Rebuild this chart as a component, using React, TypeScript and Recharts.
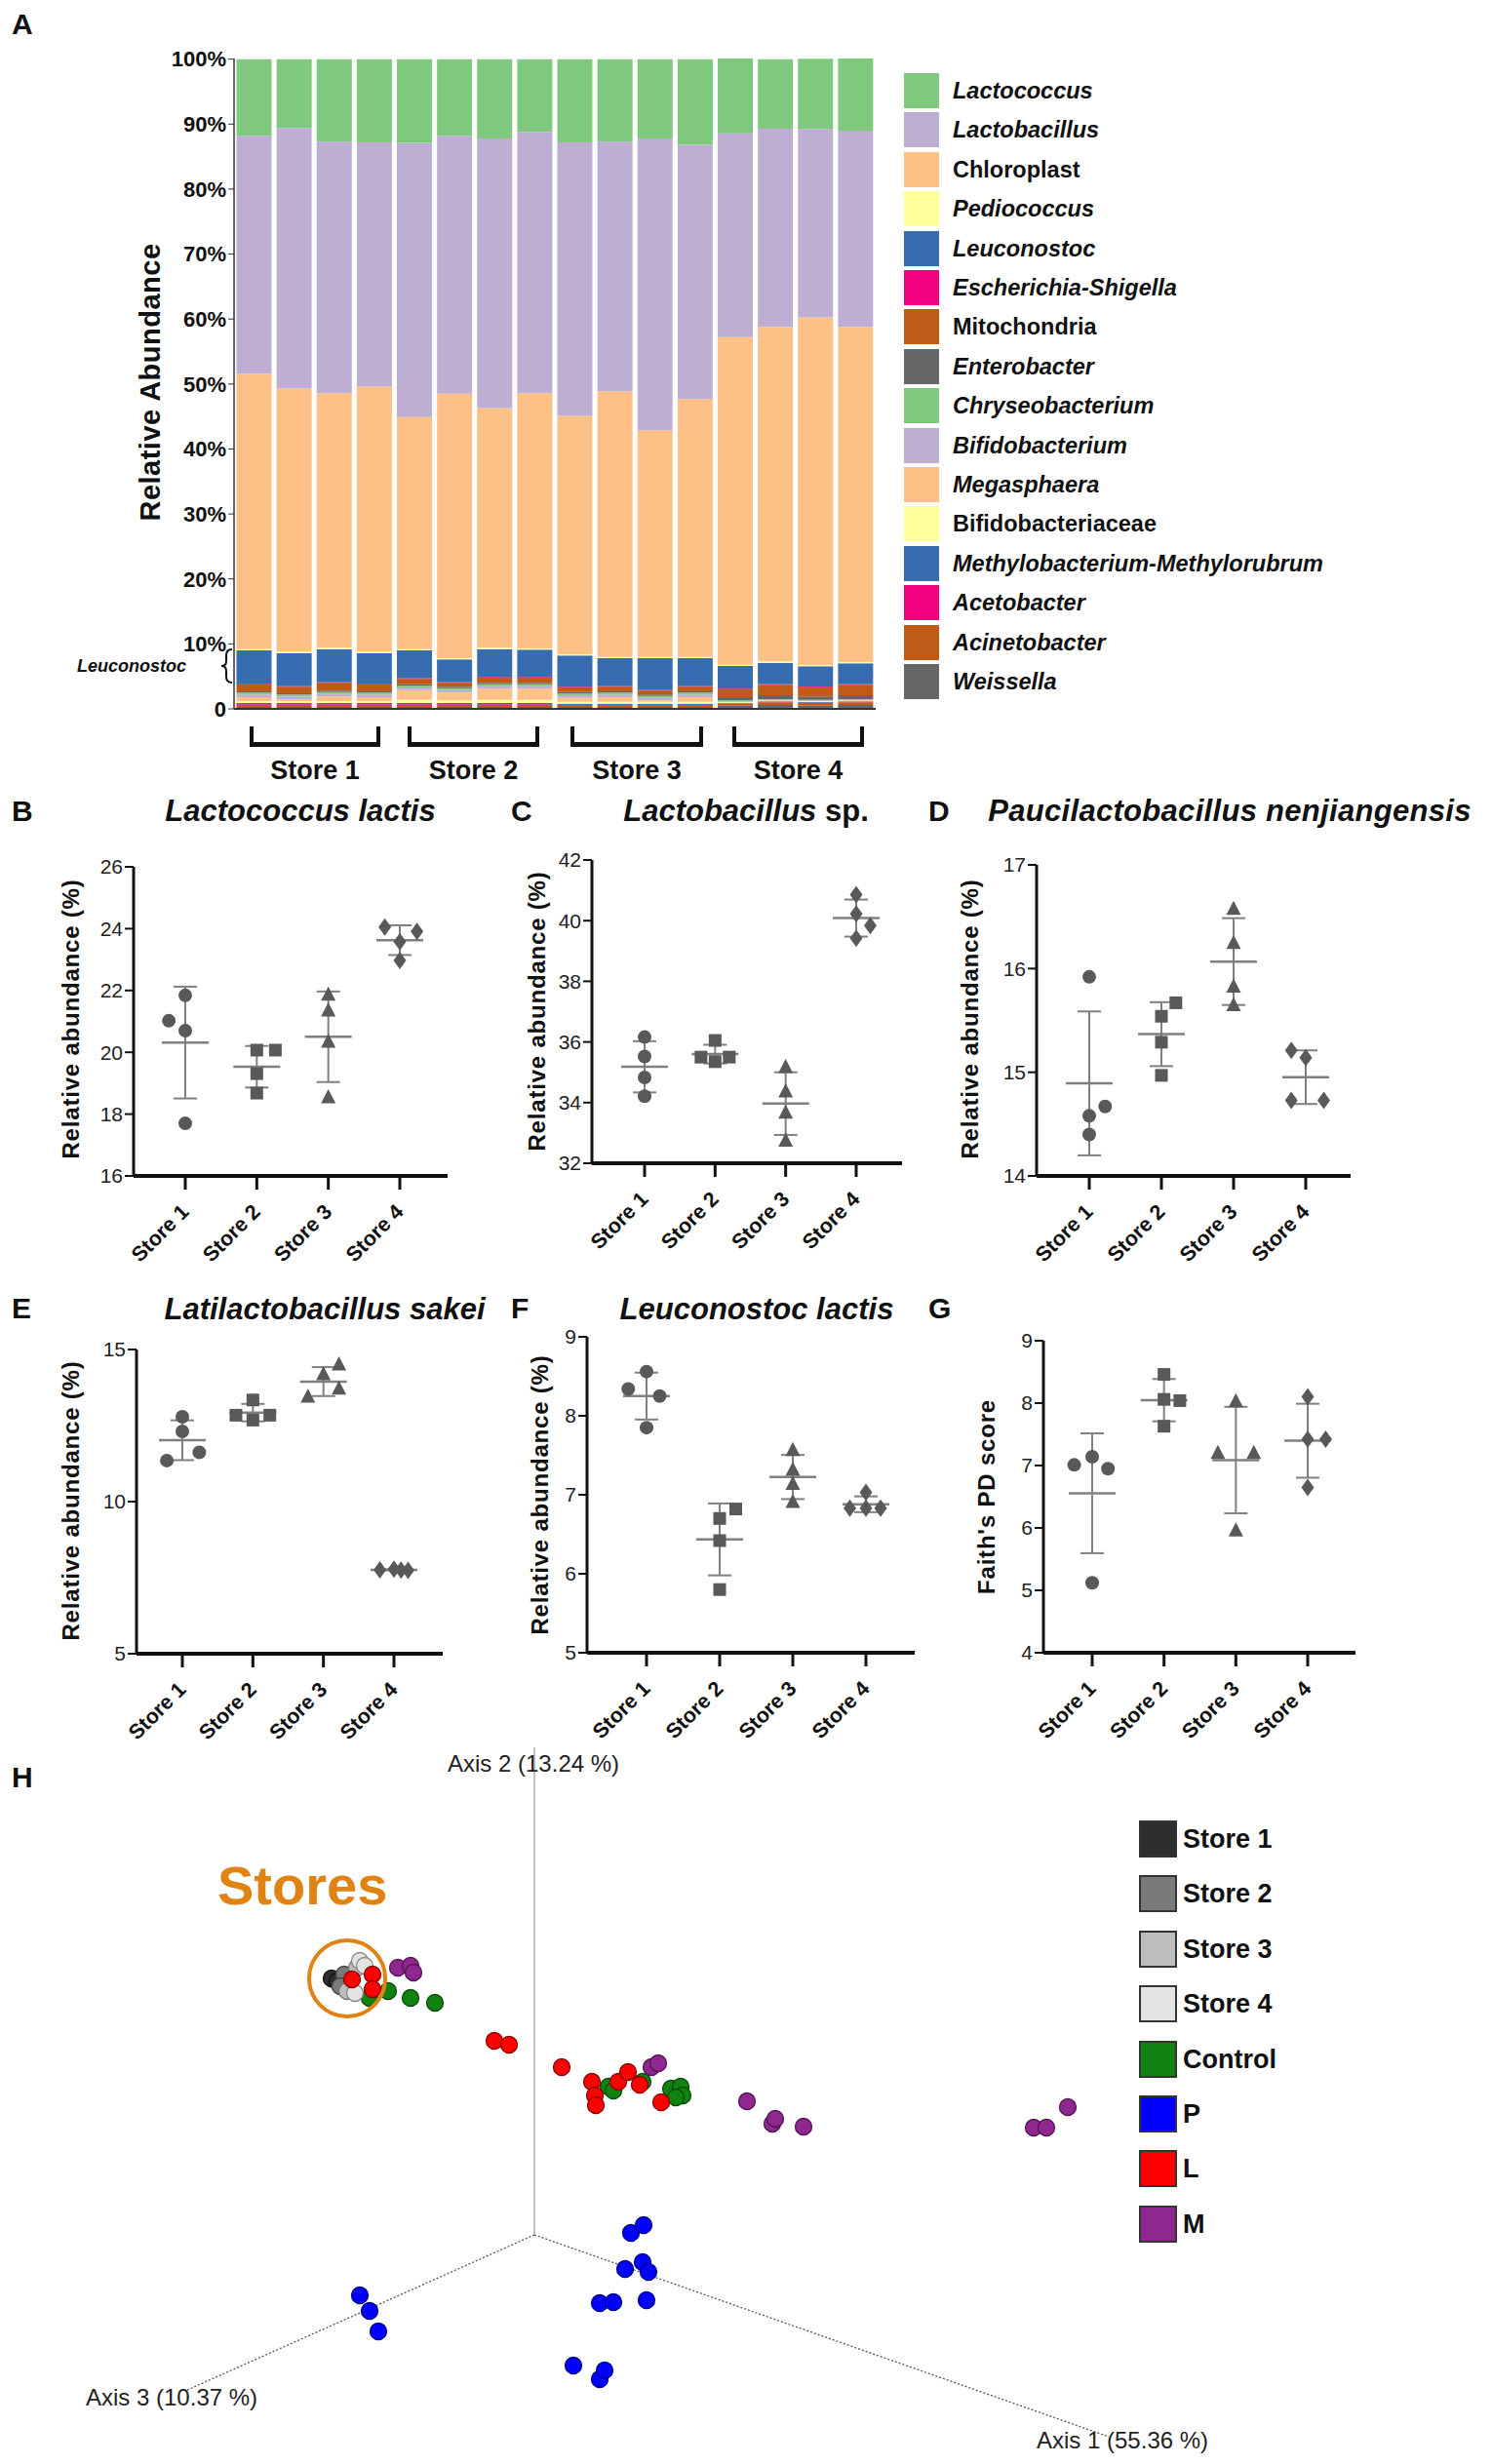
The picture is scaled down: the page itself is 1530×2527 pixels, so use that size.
import React from 'react';
import {
  BarChart, Bar, XAxis, YAxis, ComposedChart, ScatterChart, Scatter, ErrorBar, ReferenceLine, ReferenceDot,
} from 'recharts';

const FONT = '"Liberation Sans", Arial, Helvetica, sans-serif';

// ---------- A: relative abundance (%), 4 samples per store ----------
const samples = ['1a', '1b', '1c', '1d', '2a', '2b', '2c', '2d', '3a', '3b', '3c', '3d', '4a', '4b', '4c', '4d'];
const lactococcus = [11.8, 10.6, 12.7, 12.8, 12.9, 11.8, 12.2, 11.2, 12.8, 12.7, 12.2, 13.2, 11.5, 10.7, 10.8, 11.1];
const lactobacillus = [36.6, 40.1, 38.7, 37.6, 42.2, 39.7, 41.5, 40.2, 42.1, 38.4, 44.9, 39.1, 31.4, 30.5, 29.0, 30.2];
const chloroplast = [42.4, 40.5, 39.2, 40.8, 35.7, 40.7, 36.9, 39.3, 36.7, 40.9, 34.9, 39.7, 50.4, 51.5, 53.5, 51.6];
const pediococcus = [0.2, 0.2, 0.2, 0.2, 0.2, 0.2, 0.2, 0.2, 0.2, 0.2, 0.2, 0.2, 0.2, 0.2, 0.2, 0.2];
const leuconostoc = [5.1, 5.1, 5.1, 4.7, 4.3, 3.5, 4.3, 4.2, 4.8, 4.3, 4.9, 4.3, 3.5, 3.3, 3.1, 3.2];
const escherichia = [0.1, 0.1, 0.1, 0.1, 0.1, 0.1, 0.1, 0.1, 0.1, 0.1, 0.1, 0.1, 0.1, 0.1, 0.1, 0.1];
const mitochondria = [1.1, 1.0, 1.2, 1.1, 0.8, 0.6, 0.8, 0.8, 0.7, 0.7, 0.6, 0.7, 1.2, 1.6, 1.45, 1.6];
const enterobacter = [0.2, 0.2, 0.2, 0.2, 0.2, 0.2, 0.2, 0.2, 0.2, 0.2, 0.2, 0.2, 0.5, 0.6, 0.5, 0.6];
const chryseobacterium = [0.3, 0.3, 0.3, 0.3, 0.3, 0.3, 0.3, 0.3, 0.3, 0.3, 0.3, 0.3, 0.1, 0.1, 0.1, 0.1];
const bifidobacterium = [0.4, 0.4, 0.4, 0.4, 0.4, 0.4, 0.4, 0.4, 0.4, 0.4, 0.4, 0.4, 0.1, 0.1, 0.1, 0.1];
const megasphaera = [0.6, 0.3, 0.7, 0.6, 1.5, 1.2, 1.7, 1.7, 0.6, 0.7, 0.2, 0.7, 0.05, 0.05, 0.05, 0.05];
const bifidobacteriaceae = [0.3, 0.3, 0.3, 0.3, 0.5, 0.4, 0.5, 0.5, 0.3, 0.3, 0.3, 0.3, 0.1, 0.1, 0.1, 0.1];
const methylobacterium = [0.2, 0.2, 0.2, 0.2, 0.2, 0.2, 0.2, 0.2, 0.2, 0.2, 0.2, 0.2, 0.1, 0.1, 0.1, 0.1];
const acetobacter = [0.1, 0.1, 0.1, 0.1, 0.1, 0.1, 0.1, 0.1, 0.1, 0.1, 0.1, 0.1, 0.05, 0.05, 0.05, 0.05];
const acinetobacter = [0.3, 0.3, 0.3, 0.3, 0.3, 0.3, 0.3, 0.3, 0.2, 0.2, 0.2, 0.2, 0.3, 0.4, 0.4, 0.4];
const weissella = [0.3, 0.3, 0.3, 0.3, 0.3, 0.3, 0.3, 0.3, 0.3, 0.3, 0.3, 0.3, 0.5, 0.6, 0.5, 0.6];

// legend order (top of the stack first)
const genera = [
  { key: 'lactococcus', name: 'Lactococcus', color: '#7fc97f', italic: true, values: lactococcus },
  { key: 'lactobacillus', name: 'Lactobacillus', color: '#beaed4', italic: true, values: lactobacillus },
  { key: 'chloroplast', name: 'Chloroplast', color: '#fdc086', italic: false, values: chloroplast },
  { key: 'pediococcus', name: 'Pediococcus', color: '#ffff99', italic: true, values: pediococcus },
  { key: 'leuconostoc', name: 'Leuconostoc', color: '#386cb0', italic: true, values: leuconostoc },
  { key: 'escherichia', name: 'Escherichia-Shigella', color: '#f0027f', italic: true, values: escherichia },
  { key: 'mitochondria', name: 'Mitochondria', color: '#bf5b17', italic: false, values: mitochondria },
  { key: 'enterobacter', name: 'Enterobacter', color: '#666666', italic: true, values: enterobacter },
  { key: 'chryseobacterium', name: 'Chryseobacterium', color: '#7fc97f', italic: true, values: chryseobacterium },
  { key: 'bifidobacterium', name: 'Bifidobacterium', color: '#beaed4', italic: true, values: bifidobacterium },
  { key: 'megasphaera', name: 'Megasphaera', color: '#fdc086', italic: true, values: megasphaera },
  { key: 'bifidobacteriaceae', name: 'Bifidobacteriaceae', color: '#ffff99', italic: false, values: bifidobacteriaceae },
  { key: 'methylobacterium', name: 'Methylobacterium-Methylorubrum', color: '#386cb0', italic: true, values: methylobacterium },
  { key: 'acetobacter', name: 'Acetobacter', color: '#f0027f', italic: true, values: acetobacter },
  { key: 'acinetobacter', name: 'Acinetobacter', color: '#bf5b17', italic: true, values: acinetobacter },
  { key: 'weissella', name: 'Weissella', color: '#666666', italic: true, values: weissella },
];

const rowsA = samples.map((s, i) => {
  const row: any = { sample: s };
  genera.forEach((g) => { row[g.key] = g.values[i]; });
  return row;
});

// ---------- B-G: per-store values (4 replicates) ----------
const stores = ['Store 1', 'Store 2', 'Store 3', 'Store 4'];

const lactisB = [[21.84, 21.02, 20.70, 17.70], [20.07, 20.07, 19.31, 18.68], [21.84, 21.33, 20.32, 18.52], [24.05, 23.91, 23.58, 22.97]];
const lactisBJitter = [[0, -0.23, 0, 0], [0, 0.26, 0, 0], [0, 0, 0, 0], [-0.21, 0.24, 0, 0]];
const lactobC = [[36.16, 35.52, 34.83, 34.21], [36.05, 35.5, 35.5, 35.35], [35.15, 34.35, 33.65, 32.72], [40.86, 40.22, 39.84, 39.42]];
const lactobCJitter = [[0, 0, 0, 0], [0, -0.2, 0.2, 0], [0, 0, 0, 0], [0, 0, 0.2, 0]];
const paucD = [[15.92, 14.67, 14.58, 14.40], [15.67, 15.54, 15.29, 14.97], [16.57, 16.24, 15.82, 15.64], [15.21, 15.14, 14.73, 14.73]];
const paucDJitter = [[0, 0.22, 0, 0], [0.2, 0, 0, 0], [0, 0, 0, 0], [-0.2, 0, -0.2, 0.25]];
const sakeiE = [[12.79, 12.31, 11.62, 11.35], [13.34, 12.84, 12.84, 12.68], [14.49, 14.17, 13.69, 13.43], [7.78, 7.76, 7.74, 7.75]];
const sakeiEJitter = [[0, 0, 0.24, -0.22], [0, -0.24, 0.24, 0], [0.22, 0, 0.22, -0.22], [0, -0.2, 0.2, 0.1]];
const leucF = [[8.56, 8.34, 8.25, 7.85], [6.82, 6.70, 6.42, 5.80], [7.56, 7.31, 7.13, 6.90], [7.03, 6.83, 6.83, 6.83]];
const leucFJitter = [[0, -0.25, 0.18, 0], [0.22, 0, 0, 0], [0, 0, 0, 0], [0, -0.22, 0.2, 0]];
const faithG = [[7.14, 7.01, 6.95, 5.12], [8.46, 8.04, 8.06, 7.63], [8.02, 7.19, 7.19, 5.95], [8.10, 7.42, 7.42, 6.65]];
const faithGJitter = [[0, -0.25, 0.22, 0], [0, 0.22, 0, 0], [0, -0.25, 0.25, 0], [0, 0, 0.25, 0]];

// ---------- H: PCoA (projected coordinates) ----------
const store1Pts = [[-2.08, 2.63], [-2.02, 2.60]];
const store2Pts = [[-1.95, 2.67], [-1.99, 2.55]];
const store3Pts = [[-1.92, 2.50], [-1.82, 2.74]];
const store4Pts = [[-1.79, 2.81], [-1.74, 2.76], [-1.84, 2.48]];
const controlPts = [[-1.69, 2.43], [-1.50, 2.50], [-1.27, 2.43], [-1.02, 2.38], [0.76, 1.52], [0.81, 1.48], [1.11, 1.57], [1.40, 1.50], [1.50, 1.52], [1.52, 1.43], [1.45, 1.41]];
const lPts = [[-1.87, 2.62], [-1.66, 2.67], [-1.66, 2.52], [-0.41, 1.99], [-0.26, 1.95], [0.28, 1.72], [0.59, 1.57], [0.62, 1.43], [0.63, 1.33], [0.86, 1.57], [0.96, 1.67], [1.08, 1.54], [1.30, 1.36]];
const mPts = [[-1.40, 2.74], [-1.27, 2.76], [-1.24, 2.69], [1.20, 1.72], [1.27, 1.76], [2.18, 1.37], [2.44, 1.14], [2.47, 1.19], [2.76, 1.11], [5.12, 1.10], [5.25, 1.10], [5.47, 1.31]];
const pPts = [[0.99, 0.02], [1.12, 0.10], [0.93, -0.35], [1.11, -0.28], [1.17, -0.38], [0.67, -0.70], [0.81, -0.69], [1.15, -0.67], [-1.79, -0.62], [-1.69, -0.78], [-1.60, -0.99], [0.40, -1.34], [0.67, -1.48], [0.72, -1.39]];

const pcoaGroups = [
  { name: 'Store 1', color: '#2e2e2e', edge: '#111111', pts: store1Pts },
  { name: 'Store 2', color: '#7a7a7a', edge: '#444444', pts: store2Pts },
  { name: 'Store 3', color: '#bdbdbd', edge: '#777777', pts: store3Pts },
  { name: 'Store 4', color: '#e4e4e4', edge: '#888888', pts: store4Pts },
  { name: 'Control', color: '#0f820f', edge: '#0a4a0a', pts: controlPts },
  { name: 'P', color: '#0000ff', edge: '#00008a', pts: pPts },
  { name: 'L', color: '#ff0000', edge: '#8a0000', pts: lPts },
  { name: 'M', color: '#8e278e', edge: '#551555', pts: mPts },
];
const pcoaDrawOrder = ['Control', 'M', 'Store 1', 'Store 2', 'Store 3', 'Store 4', 'L', 'P'];

// ---------- helpers ----------
const mean = (a: number[]) => a.reduce((s, v) => s + v, 0) / a.length;
const sd = (a: number[]) => {
  const m = mean(a);
  return Math.sqrt(a.reduce((s, v) => s + (v - m) ** 2, 0) / (a.length - 1));
};

const txt = (extra: any = {}) => ({ position: 'absolute' as const, fontFamily: FONT, color: '#111', whiteSpace: 'nowrap' as const, ...extra });

function PanelLetter({ ch, x, y }: any) {
  return <div style={txt({ left: x, top: y - 18, fontSize: 30, fontWeight: 700, lineHeight: '36px' })}>{ch}</div>;
}

function CenterText({ x, y, size, bold = true, italic = false, children, color = '#111', spacing = 0 }: any) {
  return (
    <div style={txt({ left: x, top: y, transform: 'translate(-50%, -50%)', fontSize: size, fontWeight: bold ? 700 : 400, fontStyle: italic ? 'italic' : 'normal', color, letterSpacing: spacing })}>
      {children}
    </div>
  );
}

function VerticalText({ x, y, size, children, spacing = 0.8 }: any) {
  return (
    <div style={txt({ left: x, top: y, transform: 'translate(-50%, -50%) rotate(-90deg)', fontSize: size, fontWeight: 700, letterSpacing: spacing })}>
      {children}
    </div>
  );
}

// ---------- dot plots ----------
const TOP_H = 40;
const Y_W = 60;
const BOTTOM_H = 110;
const DOT = '#595959';
const LINE_GREY = '#808080';
const markers = ['circle', 'square', 'triangle', 'diamond'];

function Marker({ cx, cy, kind }: any) {
  if (kind === 'circle') return <circle cx={cx} cy={cy} r={7} fill={DOT} />;
  if (kind === 'square') return <rect x={cx - 6.5} y={cy - 6.5} width={13} height={13} fill={DOT} />;
  if (kind === 'triangle') return <polygon points={`${cx},${cy - 9} ${cx + 7.5},${cy + 5.5} ${cx - 7.5},${cy + 5.5}`} fill={DOT} />;
  return <polygon points={`${cx},${cy - 9} ${cx + 6.5},${cy} ${cx},${cy + 9} ${cx - 6.5},${cy}`} fill={DOT} />;
}

const StoreTick = (p: any) => {
  const ox = p.x + 5;
  const oy = p.y + 22;
  return (
    <text x={ox} y={oy} textAnchor="end" transform={`rotate(-45 ${ox} ${oy})`} fontSize={21.5} fontWeight={700} fontFamily={FONT} fill="#111">
      {stores[p.payload.value - 1]}
    </text>
  );
};

function DotPanel({ geo, groups, jitter, yDomain, yTicks, letters, letterY }: any) {
  const step = (geo.c4 - geo.c1) / 3;
  const xDomain = [1 - (geo.c1 - geo.left) / step, 4 + (geo.right - geo.c4) / step];
  const plotH = geo.bottom - geo.top;
  const width = Y_W + (geo.right - geo.left) + 12;
  const height = TOP_H + plotH + BOTTOM_H;
  const summary = groups.map((g: number[], i: number) => ({ x: i + 1, y: mean(g), sd: sd(g) }));
  const letterTick = (p: any) => (
    <text x={p.x} y={TOP_H + letterY - geo.top} textAnchor="middle" dominantBaseline="central" fontSize={28} fontWeight={700} fontFamily={FONT} fill="#111">
      {letters[p.payload.value - 1]}
    </text>
  );
  return (
    <div style={{ position: 'absolute', left: geo.left - Y_W, top: geo.top - TOP_H }}>
      <ComposedChart width={width} height={height} margin={{ top: 0, right: 12, bottom: 0, left: 0 }}>
        <XAxis xAxisId="letters" orientation="top" type="number" domain={xDomain} ticks={[1, 2, 3, 4]} height={TOP_H}
          axisLine={false} tickLine={false} allowDataOverflow tick={letterTick} interval={0} />
        <XAxis type="number" dataKey="x" domain={xDomain} ticks={[1, 2, 3, 4]} allowDataOverflow height={BOTTOM_H} tickSize={14}
          axisLine={{ stroke: '#111', strokeWidth: 4 }} tickLine={{ stroke: '#111', strokeWidth: 3 }} tick={StoreTick} interval={0} />
        <YAxis type="number" dataKey="y" domain={yDomain} ticks={yTicks} width={Y_W} allowDataOverflow tickSize={9} interval={0}
          axisLine={{ stroke: '#111', strokeWidth: 3 }} tickLine={{ stroke: '#111', strokeWidth: 2 }}
          tick={{ fontSize: 21, fill: '#222', fontFamily: FONT }} />
        <Scatter data={summary} isAnimationActive={false}
          shape={(p: any) => <line x1={p.cx - 24} x2={p.cx + 24} y1={p.cy} y2={p.cy} stroke={LINE_GREY} strokeWidth={2.5} />}>
          <ErrorBar dataKey="sd" direction="y" width={12} stroke={LINE_GREY} strokeWidth={2} isAnimationActive={false} />
        </Scatter>
        {groups.map((g: number[], i: number) => (
          <Scatter key={i} isAnimationActive={false}
            data={g.map((v, j) => ({ x: i + 1 + jitter[i][j], y: v }))}
            shape={(p: any) => <Marker cx={p.cx} cy={p.cy} kind={markers[i]} />} />
        ))}
      </ComposedChart>
    </div>
  );
}

// ---------- H ----------
function PcoaDot(color: string, edge: string) {
  return (p: any) => <circle cx={p.cx} cy={p.cy} r={8.5} fill={color} stroke={edge} strokeWidth={1.3} />;
}

export default function App() {
  const stacked = [...genera].reverse();
  return (
    <div style={{ position: 'absolute', left: 0, top: 0, width: 1530, height: 2527, background: '#fff', overflow: 'hidden' }}>
      {/* ---------------- A ---------------- */}
      <PanelLetter ch="A" x={12} y={25} />
      <div style={{ position: 'absolute', left: 150, top: 40 }}>
        <BarChart width={750} height={707} data={rowsA} margin={{ top: 20, right: 2, left: 0, bottom: 0 }} barCategoryGap={2.5}>
          <XAxis dataKey="sample" tick={false} interval={0} tickSize={8} height={20}
            tickLine={{ stroke: '#999' }} axisLine={{ stroke: '#333', strokeWidth: 2 }} />
          <YAxis domain={[0, 100]} ticks={[0, 10, 20, 30, 40, 50, 60, 70, 80, 90, 100]} width={90} interval={0} tickSize={6}
            tickFormatter={(v: number) => (v === 0 ? '0' : `${v}%`)}
            tick={{ fontSize: 22, fontWeight: 700, fill: '#111', fontFamily: FONT }}
            axisLine={{ stroke: '#333', strokeWidth: 1.5 }} tickLine={{ stroke: '#333' }} />
          {stacked.map((g) => (
            <Bar key={g.key} dataKey={g.key} name={g.name} stackId="a" fill={g.color} isAnimationActive={false} />
          ))}
        </BarChart>
      </div>
      <VerticalText x={154} y={392} size={29} spacing={0.5}>Relative Abundance</VerticalText>
      <div style={txt({ left: 79, top: 683, transform: 'translateY(-50%)', fontSize: 18, fontWeight: 700, fontStyle: 'italic' })}>Leuconostoc</div>
      <svg style={{ position: 'absolute', left: 222, top: 662 }} width={20} height={42}>
        <path d="M 16 4 Q 10 4 10 10 L 10 16 Q 10 21 5 21 Q 10 21 10 26 L 10 32 Q 10 38 16 38" fill="none" stroke="#111" strokeWidth={2} />
      </svg>
      {[[256, 390], [418, 553], [585, 721], [751, 886]].map(([l, r], i) => (
        <React.Fragment key={i}>
          <div style={{ position: 'absolute', left: l, top: 745, width: r - l, height: 21, boxSizing: 'border-box', borderLeft: '4px solid #111', borderRight: '4px solid #111', borderBottom: '5px solid #111' }} />
          <CenterText x={(l + r) / 2} y={790} size={27}>{stores[i]}</CenterText>
        </React.Fragment>
      ))}
      {genera.map((g, i) => (
        <React.Fragment key={g.key}>
          <div style={{ position: 'absolute', left: 927, top: 75 + i * 40.4, width: 36, height: 36, background: g.color }} />
          <div style={txt({ left: 977, top: 93 + i * 40.4, transform: 'translateY(-50%)', fontSize: 23.5, fontWeight: 700, fontStyle: g.italic ? 'italic' : 'normal' })}>{g.name}</div>
        </React.Fragment>
      ))}

      {/* ---------------- B, C, D ---------------- */}
      <PanelLetter ch="B" x={12} y={832} />
      <CenterText x={308} y={832} size={31} italic>Lactococcus lactis</CenterText>
      <VerticalText x={73} y={1045} size={24}>Relative abundance (%)</VerticalText>
      <DotPanel geo={{ left: 137, top: 889, right: 459, bottom: 1206, c1: 190, c4: 410 }} groups={lactisB} jitter={lactisBJitter}
        yDomain={[16, 26]} yTicks={[16, 18, 20, 22, 24, 26]} letters={['b', 'b', 'b', 'a']} letterY={883} />

      <PanelLetter ch="C" x={524} y={832} />
      <CenterText x={765} y={832} size={31}><i>Lactobacillus</i> sp.</CenterText>
      <VerticalText x={551} y={1037} size={24}>Relative abundance (%)</VerticalText>
      <DotPanel geo={{ left: 607, top: 882, right: 925, bottom: 1193, c1: 661, c4: 878 }} groups={lactobC} jitter={lactobCJitter}
        yDomain={[32, 42]} yTicks={[32, 34, 36, 38, 40, 42]} letters={['bc', 'b', 'c', 'a']} letterY={883} />

      <PanelLetter ch="D" x={952} y={832} />
      <CenterText x={1261} y={832} size={31} spacing={0.3} italic>Paucilactobacillus nenjiangensis</CenterText>
      <VerticalText x={995} y={1045} size={24}>Relative abundance (%)</VerticalText>
      <DotPanel geo={{ left: 1063, top: 887, right: 1385, bottom: 1206, c1: 1117, c4: 1339 }} groups={paucD} jitter={paucDJitter}
        yDomain={[14, 17]} yTicks={[14, 15, 16, 17]} letters={['b', 'ab', 'a', 'b']} letterY={900} />

      {/* ---------------- E, F, G ---------------- */}
      <PanelLetter ch="E" x={12} y={1342} />
      <CenterText x={333} y={1343} size={31} italic>Latilactobacillus sakei</CenterText>
      <VerticalText x={73} y={1539} size={24}>Relative abundance (%)</VerticalText>
      <DotPanel geo={{ left: 140, top: 1384, right: 454, bottom: 1696, c1: 187, c4: 404 }} groups={sakeiE} jitter={sakeiEJitter}
        yDomain={[5, 15]} yTicks={[5, 10, 15]} letters={['c', 'b', 'a', 'd']} letterY={1376} />

      <PanelLetter ch="F" x={524} y={1342} />
      <CenterText x={776} y={1343} size={31} italic>Leuconostoc lactis</CenterText>
      <VerticalText x={554} y={1533} size={24}>Relative abundance (%)</VerticalText>
      <DotPanel geo={{ left: 602, top: 1371, right: 938, bottom: 1695, c1: 663, c4: 888 }} groups={leucF} jitter={leucFJitter}
        yDomain={[5, 9]} yTicks={[5, 6, 7, 8, 9]} letters={['a', 'c', 'b', 'bc']} letterY={1371} />

      <PanelLetter ch="G" x={952} y={1342} />
      <VerticalText x={1012} y={1535} size={24}>Faith's PD score</VerticalText>
      <DotPanel geo={{ left: 1070, top: 1375, right: 1390, bottom: 1695, c1: 1120, c4: 1341 }} groups={faithG} jitter={faithGJitter}
        yDomain={[4, 9]} yTicks={[4, 5, 6, 7, 8, 9]} letters={['b', 'a', 'ab', 'ab']} letterY={1390} />

      {/* ---------------- H ---------------- */}
      <PanelLetter ch="H" x={12} y={1823} />
      <div style={{ position: 'absolute', left: 0, top: 1780 }}>
        <ScatterChart width={1150} height={740} margin={{ top: 0, right: 0, bottom: 0, left: 0 }}>
          <XAxis type="number" dataKey="x" domain={[-5.48, 6.02]} hide allowDataOverflow />
          <YAxis type="number" dataKey="y" domain={[-2.28, 5.12]} hide allowDataOverflow />
          <ReferenceLine segment={[{ x: 0, y: 0 }, { x: 0, y: 5.0 }]} stroke="#9a9a9a" strokeWidth={1.2} />
          <ReferenceLine segment={[{ x: 0, y: 0 }, { x: -3.58, y: -1.6 }]} stroke="#555" strokeWidth={1.3} strokeDasharray="2 2" />
          <ReferenceLine segment={[{ x: 0, y: 0 }, { x: 5.89, y: -2.07 }]} stroke="#555" strokeWidth={1.3} strokeDasharray="2 2" />
          {pcoaDrawOrder.map((name) => {
            const g = pcoaGroups.find((q) => q.name === name)!;
            return (
              <Scatter key={name} name={name} isAnimationActive={false}
                data={g.pts.map(([x, y]) => ({ x, y }))} shape={PcoaDot(g.color, g.edge)} />
            );
          })}
          <ReferenceDot x={-1.92} y={2.63} r={39} fill="none" stroke="#e08314" strokeWidth={4} />
        </ScatterChart>
      </div>
      <div style={txt({ left: 223, top: 1933, transform: 'translateY(-50%)', fontSize: 56, fontWeight: 700, color: '#e08314' })}>Stores</div>
      <div style={txt({ left: 459, top: 1809, transform: 'translateY(-50%)', fontSize: 24, color: '#222' })}>Axis 2 (13.24 %)</div>
      <div style={txt({ left: 88, top: 2459, transform: 'translateY(-50%)', fontSize: 24, color: '#222' })}>Axis 3 (10.37 %)</div>
      <div style={txt({ left: 1063, top: 2503, transform: 'translateY(-50%)', fontSize: 24, color: '#222' })}>Axis 1 (55.36 %)</div>
      {pcoaGroups.map((g, i) => (
        <React.Fragment key={g.name}>
          <div style={{ position: 'absolute', left: 1168, top: 1867 + i * 56.4, width: 39, height: 38, boxSizing: 'border-box', background: g.color, border: '2px solid #333' }} />
          <div style={txt({ left: 1213, top: 1886 + i * 56.4, transform: 'translateY(-50%)', fontSize: 27, fontWeight: 700 })}>{g.name}</div>
        </React.Fragment>
      ))}
    </div>
  );
}
